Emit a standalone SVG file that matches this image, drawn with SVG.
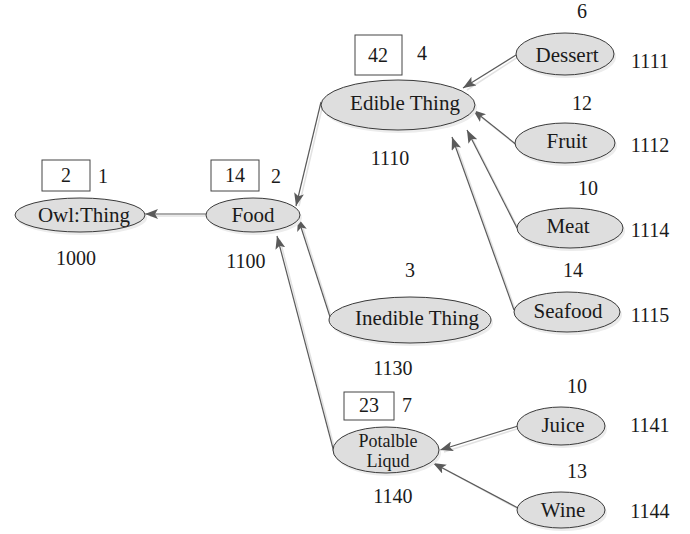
<svg xmlns="http://www.w3.org/2000/svg" width="690" height="534" viewBox="0 0 690 534">
  <defs>
    <marker id="arrow" markerUnits="userSpaceOnUse" markerWidth="14" markerHeight="10" refX="13" refY="5" orient="auto">
      <path d="M0,0 L13,5 L0,10 L3,5 z" fill="#5a5a5a"/>
    </marker>
  </defs>
  <style>
    .lbl { font-family: 'Times New Roman', Tinos, 'Liberation Serif', serif; font-size: 21px; fill: #1a1a1a; text-anchor: middle; }
    .num { font-family: 'Times New Roman', Tinos, 'Liberation Serif', serif; font-size: 20px; fill: #1a1a1a; text-anchor: middle; }
    .small { font-family: 'Times New Roman', Tinos, 'Liberation Serif', serif; font-size: 18px; fill: #1a1a1a; text-anchor: middle; }
    .node { fill: #dedede; stroke: #3a3a3a; stroke-width: 1; }
    .shadow { fill: #ececec; stroke: none; }
    .box { fill: #ffffff; stroke: #444; stroke-width: 1; }
    .edge { stroke: #5a5a5a; stroke-width: 1.2; fill: none; marker-end: url(#arrow); }
    .edge-shadow { stroke: #e2e2e2; stroke-width: 1.5; fill: none; }
  </style>
  <rect width="690" height="534" fill="#ffffff"/>

  <!-- connectors: child -> parent, with a faint offset shadow line -->
  <g id="connectors">
    <g transform="translate(2,2)">
      <line class="edge-shadow" x1="206" y1="214" x2="148" y2="214"/>
      <line class="edge-shadow" x1="321" y1="102" x2="297" y2="204"/>
      <line class="edge-shadow" x1="331" y1="320" x2="299" y2="220"/>
      <line class="edge-shadow" x1="335" y1="456" x2="278" y2="238"/>
      <line class="edge-shadow" x1="516" y1="55" x2="465" y2="88"/>
      <line class="edge-shadow" x1="518" y1="146" x2="474" y2="111"/>
      <line class="edge-shadow" x1="517" y1="228" x2="468" y2="132"/>
      <line class="edge-shadow" x1="514" y1="310" x2="453" y2="139"/>
      <line class="edge-shadow" x1="518" y1="426" x2="442" y2="450"/>
      <line class="edge-shadow" x1="518" y1="508" x2="435" y2="463"/>
    </g>
    <line class="edge" x1="206" y1="214" x2="145" y2="214"/>
    <line class="edge" x1="321" y1="102" x2="296" y2="206"/>
    <line class="edge" x1="331" y1="320" x2="298" y2="218"/>
    <line class="edge" x1="335" y1="456" x2="277" y2="236"/>
    <line class="edge" x1="516" y1="55" x2="463" y2="88"/>
    <line class="edge" x1="518" y1="146" x2="473" y2="110"/>
    <line class="edge" x1="517" y1="228" x2="467" y2="130"/>
    <line class="edge" x1="514" y1="310" x2="452" y2="137"/>
    <line class="edge" x1="518" y1="426" x2="440" y2="450"/>
    <line class="edge" x1="518" y1="508" x2="433" y2="463"/>
  </g>

  <!-- level 1 -->
  <g id="owl-thing">
    <rect class="box" x="42" y="160" width="48" height="31"/>
    <text class="num" x="66" y="182">2</text>
    <text class="num" x="103" y="183">1</text>
    <ellipse class="shadow" cx="82" cy="218" rx="65" ry="17"/>
    <ellipse class="node" cx="80" cy="215" rx="65" ry="17"/>
    <text class="lbl" x="84" y="222">Owl:Thing</text>
    <text class="num" x="76" y="265">1000</text>
  </g>

  <g id="food">
    <rect class="box" x="211" y="160" width="48" height="31"/>
    <text class="num" x="235" y="182">14</text>
    <text class="num" x="276" y="183">2</text>
    <ellipse class="shadow" cx="255" cy="218" rx="47" ry="17"/>
    <ellipse class="node" cx="253" cy="215" rx="47" ry="17"/>
    <text class="lbl" x="253" y="222">Food</text>
    <text class="num" x="246" y="268">1100</text>
  </g>

  <!-- level 2 -->
  <g id="edible-thing">
    <rect class="box" x="355" y="35" width="47" height="40"/>
    <text class="num" x="378" y="62">42</text>
    <text class="num" x="422" y="60">4</text>
    <ellipse class="shadow" cx="400" cy="108" rx="77" ry="25"/>
    <ellipse class="node" cx="398" cy="105" rx="77" ry="25"/>
    <text class="lbl" x="405" y="110">Edible Thing</text>
    <text class="num" x="390" y="165">1110</text>
  </g>

  <g id="inedible-thing">
    <text class="num" x="410" y="277">3</text>
    <ellipse class="shadow" cx="412" cy="323" rx="81" ry="23"/>
    <ellipse class="node" cx="410" cy="320" rx="81" ry="23"/>
    <text class="lbl" x="417" y="325">Inedible Thing</text>
    <text class="num" x="393" y="375">1130</text>
  </g>

  <g id="potable-liquid">
    <rect class="box" x="344" y="392" width="50" height="28"/>
    <text class="num" x="369" y="412">23</text>
    <text class="num" x="407" y="412">7</text>
    <ellipse class="shadow" cx="388" cy="453" rx="53" ry="23"/>
    <ellipse class="node" cx="386" cy="450" rx="53" ry="23"/>
    <text class="small" x="388" y="447">Potalble</text>
    <text class="small" x="388" y="467">Liqud</text>
    <text class="num" x="393" y="503">1140</text>
  </g>

  <!-- level 3 -->
  <g id="dessert">
    <text class="num" x="582" y="18">6</text>
    <ellipse class="shadow" cx="567" cy="57" rx="49" ry="21"/>
    <ellipse class="node" cx="565" cy="54" rx="49" ry="21"/>
    <text class="lbl" x="567" y="62">Dessert</text>
    <text class="num" x="650" y="68">1111</text>
  </g>

  <g id="fruit">
    <text class="num" x="582" y="110">12</text>
    <ellipse class="shadow" cx="567" cy="146" rx="50" ry="20"/>
    <ellipse class="node" cx="565" cy="143" rx="50" ry="20"/>
    <text class="lbl" x="567" y="148">Fruit</text>
    <text class="num" x="650" y="152">1112</text>
  </g>

  <g id="meat">
    <text class="num" x="588" y="195">10</text>
    <ellipse class="shadow" cx="572" cy="231" rx="53" ry="20"/>
    <ellipse class="node" cx="570" cy="228" rx="53" ry="20"/>
    <text class="lbl" x="568" y="233">Meat</text>
    <text class="num" x="650" y="237">1114</text>
  </g>

  <g id="seafood">
    <text class="num" x="573" y="277">14</text>
    <ellipse class="shadow" cx="569" cy="315" rx="53" ry="20"/>
    <ellipse class="node" cx="567" cy="312" rx="53" ry="20"/>
    <text class="lbl" x="568" y="318">Seafood</text>
    <text class="num" x="650" y="322">1115</text>
  </g>

  <g id="juice">
    <text class="num" x="577" y="393">10</text>
    <ellipse class="shadow" cx="563" cy="429" rx="44" ry="19"/>
    <ellipse class="node" cx="561" cy="426" rx="44" ry="19"/>
    <text class="lbl" x="563" y="432">Juice</text>
    <text class="num" x="650" y="432">1141</text>
  </g>

  <g id="wine">
    <text class="num" x="577" y="478">13</text>
    <ellipse class="shadow" cx="563" cy="513" rx="44" ry="18"/>
    <ellipse class="node" cx="561" cy="510" rx="44" ry="18"/>
    <text class="lbl" x="563" y="517">Wine</text>
    <text class="num" x="650" y="518">1144</text>
  </g>
</svg>
